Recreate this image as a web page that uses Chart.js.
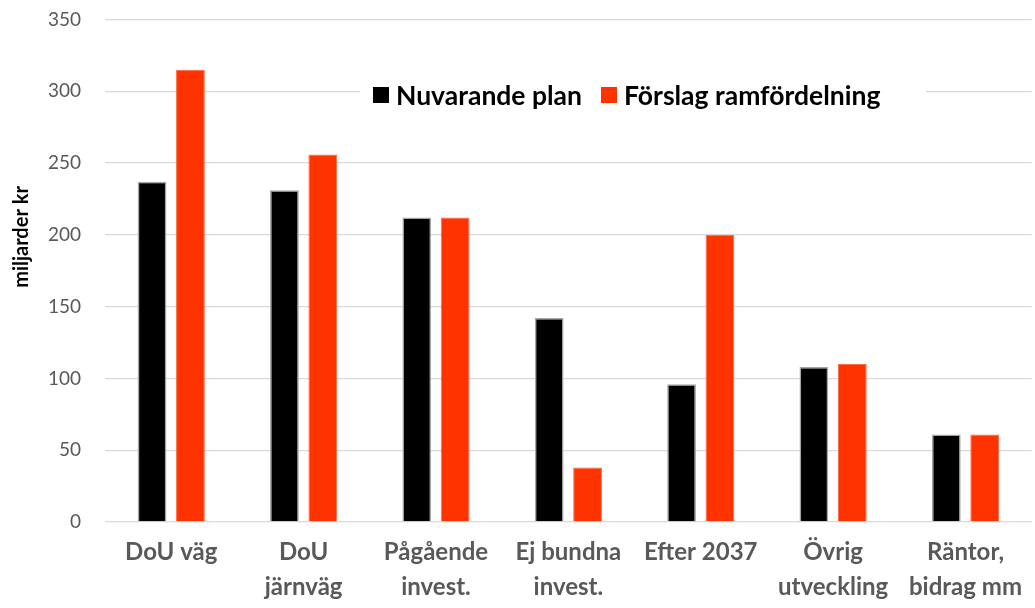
<!DOCTYPE html>
<html lang="sv">
<head>
<meta charset="UTF-8">
<title>Nuvarande plan och förslag ramfördelning</title>
<script src="https://cdn.jsdelivr.net/npm/chart.js"></script>
<style>
    html, body { margin: 0; padding: 0; background: #fff; }
    #wrap { width: 1035px; height: 608px; }
</style>
</head>
<body>
<div id="wrap"><canvas id="barChart"></canvas></div>
<script>
    const categories = [
        'DoU väg',
        ['DoU', 'järnväg'],
        ['Pågående', 'invest.'],
        ['Ej bundna', 'invest.'],
        'Efter 2037',
        ['Övrig', 'utveckling'],
        ['Räntor,', 'bidrag mm']
    ];
    const nuvarandePlan = [237, 231, 212, 142, 96, 108, 61];
    const forslagRam = [315, 256, 212, 38, 200, 110, 61];
    const yTicks = [0, 50, 100, 150, 200, 250, 300, 350];

    const FONT = 'Lato, "Open Sans", sans-serif';

    // legend + y title drawn by hand, legend sits inside the plot with a white box
    const overlay = {
        id: 'overlay',
        afterDraw(chart) {
            const ctx = chart.ctx;
            ctx.save();
            ctx.fillStyle = '#fff';
            ctx.fillRect(360, 80, 566, 30);

            ctx.font = 'bold 26.5px ' + FONT;
            ctx.textBaseline = 'middle';
            ctx.textAlign = 'left';
            const items = [
                { x: 373, ds: chart.data.datasets[0] },
                { x: 601, ds: chart.data.datasets[1] }
            ];
            items.forEach(it => {
                ctx.fillStyle = it.ds.backgroundColor;
                ctx.fillRect(it.x, 87, 16, 16);
                ctx.fillStyle = '#000';
                ctx.fillText(it.ds.label, it.x + 23, 96);
            });

            ctx.translate(22, 237);
            ctx.rotate(-Math.PI / 2);
            ctx.textAlign = 'center';
            ctx.font = 'bold 20px ' + FONT;
            ctx.fillStyle = '#000';
            ctx.fillText('miljarder kr', 0, 0);
            ctx.restore();
        }
    };

    new Chart(document.getElementById('barChart'), {
        type: 'bar',
        data: {
            labels: categories,
            datasets: [
                {
                    label: 'Nuvarande plan',
                    data: nuvarandePlan,
                    backgroundColor: '#000000',
                    borderColor: '#a6a6a6',
                    borderWidth: 1.5,
                    barPercentage: 0.75,
                    categoryPercentage: 0.58
                },
                {
                    label: 'Förslag ramfördelning',
                    data: forslagRam,
                    backgroundColor: '#ff3300',
                    borderColor: '#ff6a45',
                    borderWidth: 1,
                    barPercentage: 0.75,
                    categoryPercentage: 0.58
                }
            ]
        },
        options: {
            responsive: true,
            maintainAspectRatio: false,
            animation: false,
            layout: { padding: { left: 40, top: 0, right: 0, bottom: 0 } },
            plugins: {
                legend: { display: false },
                tooltip: { enabled: false }
            },
            scales: {
                x: {
                    afterFit(axis) { axis.height = 86; },
                    grid: { display: false, drawTicks: false },
                    border: { display: false },
                    ticks: {
                        color: '#595959',
                        font: { family: FONT, size: 24, weight: 'bold', lineHeight: 1.45 },
                        padding: 13,
                        maxRotation: 0,
                        autoSkip: false
                    }
                },
                y: {
                    min: 0,
                    max: 350,
                    afterBuildTicks(axis) {
                        axis.ticks = yTicks.map(v => ({ value: v }));
                    },
                    grid: { color: '#d9d9d9', lineWidth: 1.3, tickLength: 16, tickColor: 'rgba(0,0,0,0)' },
                    border: { display: false },
                    ticks: {
                        color: '#595959',
                        font: { family: FONT, size: 19 },
                        padding: 8
                    }
                }
            }
        },
        plugins: [overlay]
    });
</script>
</body>
</html>
